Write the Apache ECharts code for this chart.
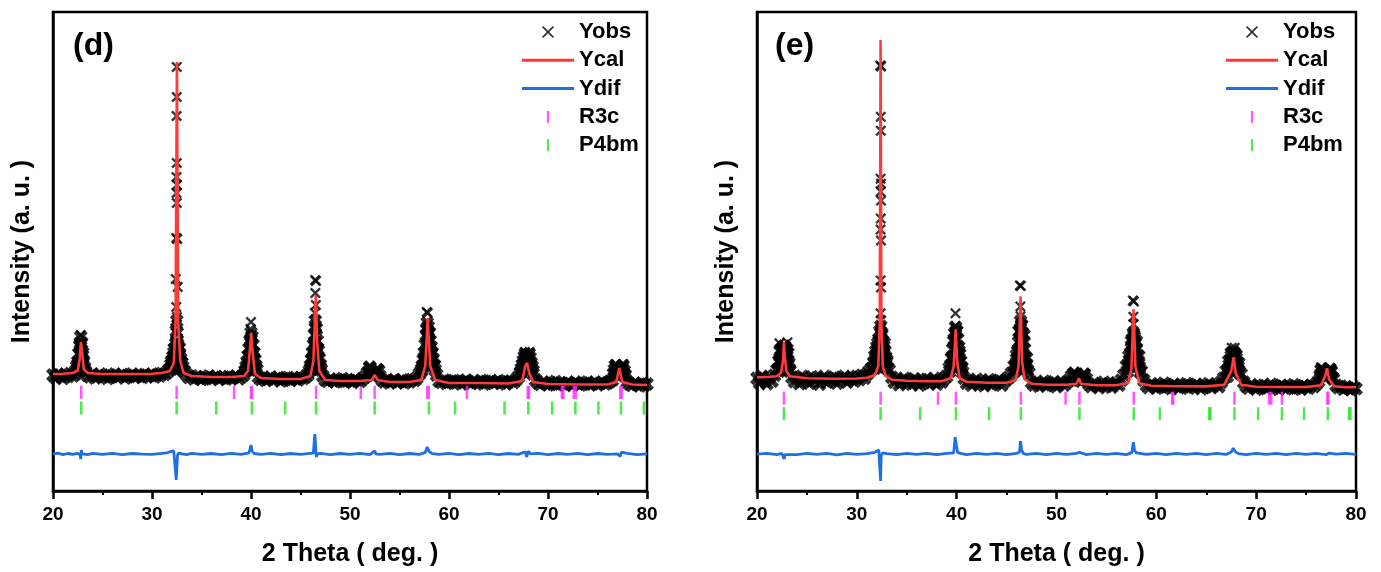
<!DOCTYPE html>
<html>
<head>
<meta charset="utf-8">
<script src="https://cdn.jsdelivr.net/npm/echarts@6/dist/echarts.min.js"></script>
<style>
html,body{margin:0;padding:0;background:#fff;}
#chart{width:1381px;height:572px;}
</style>
</head>
<body>
<div id="chart"></div>
<script>
// ---------------- DATA ----------------
const xTickLabels = [20, 30, 40, 50, 60, 70, 80];
const seriesNames = ['Yobs', 'Ycal', 'Ydif', 'R3c', 'P4bm'];
const panelLabels = ['(d)', '(e)'];

// Yobs background scan, 2θ from 20 to 80 in 0.25° steps (a.u.)
const obsStep = 0.25, obsStart = 20;
const obsBaseD = [
 1160,1135,1170,1150,1125,1165,1145,1175,1150,
 1170,1260,1480,1350,1190,1155,
 1140,1165,1130,1155,1170,1140,1150,1125,1160,1145,1170,1135,1150,1165,1130,1155,1145,1170,1140,1150,1160,1135,1165,1145,1155,1170,1140,1160,1150,1175,1165,1185,
 1210,1290,1420,1480,1430,1280,1200,1165,
 1135,1150,1120,1145,1130,1115,1140,1125,1150,1120,1135,1145,1115,1130,1140,1120,1145,1125,1135,1150,1120,1140,1160,
 1200,1290,1520,1330,1220,1140,
 1115,1130,1105,1125,1140,1110,1120,1135,1100,1125,1115,1135,1105,1130,1120,1110,1135,1125,1140,1165,
 1220,1330,1650,1420,1230,1150,
 1110,1095,1120,1105,1090,1115,1100,1125,1095,1110,1100,1085,1115,1105,1095,1120,1140,
 1180,1240,1150,1160,1215,1150,1110,
 1090,1105,1080,1100,1115,1085,1095,1110,1080,1100,1090,1115,1105,1130,
 1170,1220,1330,1620,1580,1380,1250,1160,
 1100,1085,1110,1075,1095,1090,1105,1080,1100,1070,1095,1110,1085,1075,1100,1090,1080,1105,1070,1095,1085,1100,1075,1090,1105,1080,1095,1070,1090,1100,1085,1110,1140,
 1190,1260,1340,1360,1260,1170,1110,
 1080,1065,1090,1075,1060,1085,1070,1095,1065,1080,1070,1055,1085,1075,1065,1090,1070,1060,1080,1075,1090,1065,1070,1085,1060,1075,1090,1070,1080,1095,1110,
 1170,1230,1200,1220,1150,1095,
 1070,1055,1080,1065,1050,1075,1060,1070
];
const obsBaseE = [
 1130,1085,1150,1110,1075,1140,1100,1160,
 1210,1300,1420,1450,1380,1220,1140,
 1095,1130,1075,1150,1105,1120,1080,1145,1100,1135,1070,1115,1150,1090,1125,1105,1140,1080,1130,1110,1150,1090,1125,1140,1100,1150,1115,1160,1130,1170,1200,
 1230,1280,1350,1500,1560,1480,1310,1210,1140,
 1090,1120,1065,1105,1130,1080,1110,1070,1125,1095,1060,1115,1085,1120,1075,1100,1130,1070,1105,1090,1125,1150,
 1230,1330,1520,1600,1400,1230,1130,
 1080,1105,1060,1095,1120,1070,1100,1055,1090,1115,1065,1100,1080,1110,1060,1095,1120,1140,1180,
 1250,1360,1600,1660,1560,1330,1180,
 1090,1060,1085,1050,1075,1100,1055,1080,1065,1095,1045,1070,1090,1060,1085,1110,
 1150,1180,1120,1110,1100,1170,1120,
 1070,1045,1080,1055,1035,1070,1090,1050,1075,1040,1065,1085,1060,1110,1160,
 1250,1350,1500,1560,1500,1350,1200,1110,
 1060,1035,1075,1050,1030,1065,1045,1080,1040,1055,1025,1070,1050,1035,1065,1045,1075,1030,1055,1040,1070,1050,1025,1060,1045,1075,1035,1055,1070,1045,1090,1130,
 1200,1300,1380,1390,1360,1280,1170,1090,
 1050,1030,1065,1040,1020,1055,1035,1060,1025,1045,1070,1030,1050,1020,1060,1040,1025,1055,1035,1065,1030,1045,1020,1055,1040,1030,1060,1045,1070,1100,
 1170,1200,1140,1190,1200,1120,1060,
 1035,1050,1020,1045,1030,1015,1040,1025
];

// Dense Yobs clusters on the reflections [2θ, intensity]
const obsClusterD = [
 [22.3,1200],[22.4,1240],[22.5,1290],[22.6,1370],[22.7,1450],[22.8,1540],[22.9,1480],[23.0,1380],[23.1,1290],[23.2,1230],[23.3,1190],
 [22.6,1270],[22.7,1300],[22.8,1350],[22.9,1320],[23.0,1260],[22.8,1440],
 [31.8,1220],[31.9,1260],[32.0,1300],[32.1,1340],[32.2,1380],[32.3,1420],[32.4,1470],[32.5,1500],[32.6,1460],[32.7,1420],[32.8,1370],[32.9,1320],[33.0,1280],[33.1,1240],[33.2,1200],
 [32.0,1220],[32.1,1250],[32.2,1280],[32.3,1300],[32.4,1330],[32.5,1360],[32.6,1330],[32.7,1300],[32.8,1270],[32.9,1230],[32.45,1600],[32.55,1580],[32.5,1700],
 [39.4,1200],[39.5,1240],[39.6,1290],[39.7,1350],[39.8,1420],[39.9,1500],[40.0,1580],[40.1,1540],[40.2,1460],[40.3,1380],[40.4,1310],[40.5,1250],[40.6,1210],
 [39.7,1250],[39.8,1280],[39.9,1330],[40.0,1380],[40.1,1360],[40.2,1310],[40.3,1260],[40.0,1480],
 [45.9,1200],[46.0,1250],[46.1,1310],[46.2,1380],[46.3,1460],[46.4,1560],[46.5,1700],[46.6,1620],[46.7,1500],[46.8,1400],[46.9,1320],[47.0,1260],[47.1,1210],
 [46.1,1220],[46.2,1260],[46.3,1300],[46.4,1350],[46.5,1420],[46.6,1380],[46.7,1320],[46.8,1270],[46.9,1220],[46.5,1560],[46.45,1450],
 [51.9,1190],[52.0,1230],[52.1,1180],[52.8,1210],[52.9,1200],
 [57.2,1200],[57.3,1250],[57.4,1310],[57.5,1380],[57.6,1460],[57.7,1560],[57.8,1680],[57.9,1640],[58.0,1580],[58.1,1500],[58.2,1440],[58.3,1380],[58.4,1320],[58.5,1260],[58.6,1210],
 [57.5,1260],[57.6,1300],[57.7,1360],[57.8,1420],[57.9,1420],[58.0,1380],[58.1,1340],[58.2,1300],[58.3,1260],[57.8,1550],[57.9,1530],
 [67.2,1180],[67.3,1220],[67.4,1260],[67.5,1300],[67.6,1340],[67.7,1370],[67.8,1330],[67.9,1330],[68.0,1360],[68.1,1370],[68.2,1330],[68.3,1280],[68.4,1240],[68.5,1200],
 [67.6,1240],[67.8,1230],[68.0,1250],[68.2,1230],
 [76.6,1170],[76.7,1210],[76.8,1250],[76.9,1250],[77.0,1210],[77.1,1190],[77.2,1200],[77.3,1190],[77.4,1210],[77.5,1250],[77.6,1250],[77.7,1200],[77.8,1160]
];
const obsClusterE = [
 [22.1,1220],[22.2,1300],[22.3,1400],[22.4,1420],[22.5,1400],[22.6,1420],[22.7,1450],[22.8,1430],[22.9,1410],[23.0,1420],[23.1,1380],[23.2,1280],[23.3,1200],
 [22.2,1200],[22.3,1280],[22.4,1300],[22.5,1290],[22.6,1300],[22.7,1320],[22.8,1310],[22.9,1290],[23.0,1300],[23.1,1260],
 [31.6,1230],[31.7,1290],[31.8,1350],[31.9,1400],[32.0,1440],[32.1,1480],[32.2,1520],[32.3,1600],[32.4,1650],[32.5,1580],[32.6,1500],[32.7,1450],[32.8,1400],[32.9,1340],[33.0,1290],[33.1,1230],
 [31.8,1230],[31.9,1270],[32.0,1300],[32.1,1330],[32.2,1360],[32.3,1400],[32.4,1450],[32.5,1420],[32.6,1370],[32.7,1330],[32.8,1290],[32.9,1240],[32.4,1530],
 [39.3,1200],[39.4,1260],[39.5,1330],[39.6,1420],[39.7,1500],[39.8,1580],[39.9,1640],[40.0,1600],[40.1,1520],[40.2,1440],[40.3,1370],[40.4,1300],[40.5,1240],[40.6,1190],
 [39.6,1260],[39.7,1300],[39.8,1350],[39.9,1420],[40.0,1400],[40.1,1340],[40.2,1290],[40.3,1250],[39.9,1520],
 [45.8,1200],[45.9,1250],[46.0,1320],[46.1,1400],[46.2,1490],[46.3,1600],[46.4,1700],[46.5,1660],[46.6,1580],[46.7,1500],[46.8,1420],[46.9,1340],[47.0,1270],[47.1,1210],
 [46.0,1230],[46.1,1270],[46.2,1320],[46.3,1380],[46.4,1440],[46.5,1420],[46.6,1380],[46.7,1330],[46.8,1280],[46.9,1230],[46.4,1580],[46.5,1540],
 [51.7,1160],[51.8,1180],[52.7,1150],[52.8,1170],
 [57.1,1200],[57.2,1250],[57.3,1310],[57.4,1380],[57.5,1450],[57.6,1520],[57.7,1580],[57.8,1540],[57.9,1480],[58.0,1420],[58.1,1360],[58.2,1300],[58.3,1240],[58.4,1190],
 [57.4,1260],[57.5,1300],[57.6,1350],[57.7,1400],[57.8,1380],[57.9,1340],[58.0,1290],[58.1,1250],
 [67.1,1150],[67.2,1200],[67.3,1260],[67.4,1310],[67.5,1350],[67.6,1380],[67.7,1390],[67.8,1380],[67.9,1360],[68.0,1330],[68.1,1290],[68.2,1240],[68.3,1190],
 [67.4,1220],[67.5,1250],[67.6,1270],[67.7,1280],[67.8,1270],[67.9,1250],[68.0,1230],
 [76.4,1150],[76.5,1210],[76.6,1220],[76.7,1180],[76.8,1150],[76.9,1160],[77.0,1180],[77.1,1170],[77.2,1170],[77.3,1200],[77.4,1220],[77.5,1190],[77.6,1140]
];
// Individually visible Yobs crosses above the clusters [2θ, intensity]
const obsTopsD = [
 [22.8,1560],
 [32.5,4240],[32.5,3940],[32.48,3750],[32.5,3280],[32.47,3140],[32.52,3060],[32.48,2980],[32.5,2880],[32.45,2530],[32.55,2520],[32.4,2120],[32.6,2040],[32.45,1840],[32.52,1740],[32.47,1660],
 [40.0,1690],[39.95,1620],
 [46.48,2110],[46.56,2100],[46.5,1980],[46.55,1860],[46.45,1780],
 [57.75,1790],[57.85,1780],
 [67.65,1390],[68.15,1390],
 [76.85,1270],[77.6,1270]
];
const obsTopsE = [
 [22.25,1480],[23.05,1490],
 [32.35,4265],[32.42,4255],[32.4,3750],[32.4,3610],[32.38,3130],[32.42,3080],[32.38,3000],[32.42,2910],[32.4,2730],[32.38,2620],[32.42,2510],[32.38,2110],[32.42,2040],[32.38,1780],[32.42,1710],[32.38,1620],
 [39.88,1780],[39.85,1650],
 [46.33,2060],[46.43,2055],[46.38,1850],[46.4,1750],
 [57.65,1910],[57.75,1900],[57.7,1745],[57.72,1672],
 [67.55,1435],[67.85,1435],
 [76.5,1240],[77.45,1230]
];

// Calculated profile Ycal [2θ, intensity]
const calD = [
 [20,1170],[21,1172],[22,1180],[22.5,1205],[22.7,1320],[22.82,1490],[22.87,1490],[22.97,1360],[23.1,1220],[23.5,1180],[25,1170],[28,1170],[30,1172],[31,1180],[31.8,1200],[32.2,1280],[32.38,1700],[32.52,4290],[32.64,1700],[32.85,1300],[33.2,1180],[34,1150],[36,1140],[38,1140],[39.3,1150],[39.7,1200],[39.92,1450],[40.02,1580],[40.15,1400],[40.4,1170],[41,1130],[43,1120],[45,1120],[46.0,1150],[46.3,1300],[46.45,1700],[46.55,1960],[46.68,1500],[46.9,1200],[47.5,1110],[49,1100],[51,1100],[52.2,1110],[52.5,1160],[52.8,1110],[54,1090],[56,1090],[57.2,1110],[57.6,1250],[57.85,1730],[58.1,1250],[58.6,1110],[60,1080],[63,1080],[66,1075],[67.4,1100],[67.7,1250],[67.9,1280],[68.1,1180],[68.5,1090],[70,1070],[73,1065],[76,1065],[76.9,1090],[77.2,1230],[77.5,1090],[78.5,1065],[80,1060]
];
const calE = [
 [20,1140],[21,1142],[22,1150],[22.4,1185],[22.6,1300],[22.7,1490],[22.78,1350],[22.95,1200],[23.3,1150],[25,1130],[28,1125],[30,1128],[31,1135],[31.8,1160],[32.15,1250],[32.3,1700],[32.38,4520],[32.46,1700],[32.6,1250],[32.9,1150],[33.5,1115],[35,1105],[37,1100],[38.5,1100],[39.4,1130],[39.7,1250],[39.9,1620],[40.05,1300],[40.3,1130],[41,1095],[43,1085],[45,1085],[45.9,1110],[46.2,1250],[46.4,1950],[46.55,1300],[46.8,1120],[47.5,1075],[49,1065],[51,1065],[52.0,1075],[52.25,1130],[52.45,1075],[54,1060],[56,1060],[57.2,1085],[57.5,1220],[57.72,1820],[57.9,1250],[58.3,1080],[59.5,1055],[62,1050],[65,1048],[66.8,1065],[67.5,1200],[67.75,1340],[67.95,1180],[68.5,1065],[70,1045],[73,1042],[75,1042],[76.5,1060],[76.9,1150],[77.1,1230],[77.3,1120],[77.8,1050],[79,1040],[80,1040]
];

// Difference curve Ydif [2θ, intensity]
const difD = [
 [20,370],[20.5,378],[21,364],[21.5,375],[22,366],[22.5,376],[22.75,360],[22.8,320],[22.85,410],[22.95,372],[23.5,364],[24,376],[25,367],[26,377],[27,363],[28,375],[29,368],[30,366],[31,376],[31.5,382],[31.9,395],[32.2,400],[32.35,420],[32.45,110],[32.5,120],[32.58,360],[32.7,382],[33,372],[33.5,364],[34,376],[35,366],[36,375],[37,363],[38,376],[39,367],[39.8,382],[40.0,460],[40.1,400],[40.3,375],[41,366],[42,376],[43,364],[44,375],[45,367],[46,376],[46.3,378],[46.45,570],[46.55,560],[46.6,340],[46.7,372],[47,376],[48,364],[49,375],[50,366],[51,376],[52,364],[52.5,400],[52.6,372],[53,367],[54,376],[55,364],[56,375],[57,366],[57.6,385],[57.8,440],[58.0,395],[58.3,374],[59,366],[60,376],[61,364],[62,375],[63,367],[64,376],[65,364],[66,375],[67,366],[67.7,392],[67.85,340],[68.0,398],[68.2,372],[69,376],[70,364],[71,375],[72,367],[73,376],[74,364],[75,375],[76,366],[77,372],[77.3,345],[77.4,388],[77.6,370],[78,376],[79,364],[80,372]
];
const difE = [
 [20,370],[21,378],[22,364],[22.5,376],[22.65,385],[22.72,320],[22.8,365],[23,375],[24,364],[25,377],[26,366],[27,376],[28,363],[29,377],[30,366],[31,375],[31.8,388],[32.2,410],[32.32,395],[32.38,100],[32.44,360],[32.6,382],[33,374],[34,364],[35,377],[36,366],[37,376],[38,364],[39,377],[39.7,382],[39.85,540],[39.95,470],[40.1,385],[40.5,374],[41,364],[42,376],[43,366],[44,377],[45,364],[46,376],[46.3,390],[46.4,500],[46.5,410],[46.7,375],[47,366],[48,377],[49,364],[50,376],[51,366],[52,377],[52.3,388],[52.5,370],[53,364],[54,376],[55,366],[56,377],[57,364],[57.55,385],[57.7,490],[57.8,410],[58,382],[58.5,374],[59,366],[60,377],[61,364],[62,376],[63,366],[64,377],[65,364],[66,376],[67,366],[67.5,390],[67.7,430],[67.9,395],[68.2,374],[69,364],[70,377],[71,366],[72,376],[73,364],[74,377],[75,366],[76,376],[77,364],[77.15,352],[77.3,380],[78,370],[79,377],[80,366]
];

// Bragg reflection positions (2θ)
const r3cD  = [22.85,32.49,38.29,40.0,40.1,46.57,51.09,52.49,57.8,57.95,61.81,67.95,68.08,71.4,71.55,72.6,72.8,77.3,77.45];
const p4bmD = [22.85,32.49,36.49,40.09,43.45,46.57,52.49,57.97,60.61,65.61,68.01,70.41,72.77,75.09,77.37,79.69];
const r3cE  = [22.70,32.38,38.13,39.92,46.43,50.91,52.30,57.74,61.58,61.68,67.82,71.31,71.51,72.58,77.13,77.23];
const p4bmE = [22.70,32.38,36.35,39.92,43.25,46.43,52.30,57.74,60.36,65.3,65.42,67.82,70.2,72.58,74.8,77.18,79.3,79.45];
// vertical level (a.u.) of each reflection row
const rowLevelD = {r3c: 985, p4bm: 830};
const rowLevelE = {r3c: 930, p4bm: 775};

// ---------------- BUILD ----------------
const FONT = '"Liberation Sans", Arial, Helvetica, sans-serif';
const RED = '#ff3a3a', BLUE = '#1e6fe6', MAG = '#ff2cff', GRN = '#1ee61e';
const X_PATH = 'path://M0,1.5L1.5,0L5,3.5L8.5,0L10,1.5L6.5,5L10,8.5L8.5,10L5,6.5L1.5,10L0,8.5L3.5,5Z';
const X_BOLD = 'path://M0,2.4L2.4,0L5,2.6L7.6,0L10,2.4L7.4,5L10,7.6L7.6,10L5,7.4L2.4,10L0,7.6L2.6,5Z';
const X_LEG = 'path://M0,1L1,0L5,4L9,0L10,1L6,5L10,9L9,10L5,6L1,10L0,9L4,5Z';
const LINE_PATH = 'path://M0,0H52V3H0Z';
const BAR_PATH = 'path://M0,0H2V11H0Z';

function denseData(base, cluster) {
  const pts = base.map((v, i) => [obsStart + i * obsStep, v]);
  return pts.concat(cluster);
}
function rowData(pos, level) { return pos.map(p => [p, level]); }

const grids = [
  {left: 53, top: 12, width: 594, height: 479},
  {left: 757, top: 12, width: 599, height: 480}
];
const yMax = [4790, 4800];

const xAxes = grids.map((g, i) => ({
  gridIndex: i, type: 'value', min: 20, max: 80, interval: 10,
  name: '2 Theta ( deg. )', nameLocation: 'middle', nameGap: 51,
  nameTextStyle: {fontFamily: FONT, fontSize: 25, fontWeight: 'bold', color: '#000'},
  axisLine: {show: true, onZero: false, lineStyle: {color: '#000', width: 2.5}},
  axisTick: {show: true, inside: false, length: 8, lineStyle: {color: '#000', width: 2.5}},
  minorTick: {show: true, splitNumber: 2, length: 4, lineStyle: {color: '#000', width: 2}},
  axisLabel: {fontFamily: FONT, fontSize: 19, fontWeight: 'bold', color: '#000', margin: 14,
              formatter: v => (xTickLabels.indexOf(v) >= 0 ? String(v) : '')},
  splitLine: {show: false}
}));
const yAxes = grids.map((g, i) => ({
  gridIndex: i, type: 'value', min: 0, max: yMax[i],
  name: 'Intensity (a. u. )', nameLocation: 'middle', nameGap: 18, nameRotate: 90,
  nameTextStyle: {fontFamily: FONT, fontSize: 25, fontWeight: 'bold', color: '#000'},
  axisLine: {show: true, lineStyle: {color: '#000', width: 2.5}},
  axisTick: {show: false}, axisLabel: {show: false}, splitLine: {show: false}
}));

const panels = [
  {dense: denseData(obsBaseD, obsClusterD), tops: obsTopsD, cal: calD, dif: difD, r3c: rowData(r3cD, rowLevelD.r3c), p4bm: rowData(p4bmD, rowLevelD.p4bm)},
  {dense: denseData(obsBaseE, obsClusterE), tops: obsTopsE, cal: calE, dif: difE, r3c: rowData(r3cE, rowLevelE.r3c), p4bm: rowData(p4bmE, rowLevelE.p4bm)}
];

const series = [];
panels.forEach((p, i) => {
  series.push({name: seriesNames[0], type: 'scatter', xAxisIndex: i, yAxisIndex: i, data: p.dense,
    symbol: X_BOLD, symbolSize: 14, itemStyle: {color: '#000', borderWidth: 0}, z: 2, silent: true});
  series.push({name: seriesNames[0], type: 'scatter', xAxisIndex: i, yAxisIndex: i, data: p.tops,
    symbol: X_PATH, symbolSize: 11, itemStyle: {color: '#000', borderWidth: 0}, z: 2, silent: true});
  series.push({name: seriesNames[1], type: 'line', xAxisIndex: i, yAxisIndex: i, data: p.cal,
    showSymbol: false, symbol: 'none', lineStyle: {color: RED, width: 2.6}, itemStyle: {color: RED}, z: 4, silent: true});
  series.push({name: seriesNames[2], type: 'line', xAxisIndex: i, yAxisIndex: i, data: p.dif,
    showSymbol: false, symbol: 'none', lineStyle: {color: BLUE, width: 2.8}, itemStyle: {color: BLUE}, z: 4, silent: true});
  series.push({name: seriesNames[3], type: 'scatter', xAxisIndex: i, yAxisIndex: i, data: p.r3c,
    symbol: 'rect', symbolSize: [2.5, 13], itemStyle: {color: MAG}, z: 3, silent: true});
  series.push({name: seriesNames[4], type: 'scatter', xAxisIndex: i, yAxisIndex: i, data: p.p4bm,
    symbol: 'rect', symbolSize: [2.5, 13], itemStyle: {color: GRN}, z: 3, silent: true});
});

const legendItems = [
  {name: seriesNames[0], icon: X_LEG, itemStyle: {color: '#000', borderWidth: 0}},
  {name: seriesNames[1], icon: LINE_PATH, itemStyle: {color: RED, borderWidth: 0}},
  {name: seriesNames[2], icon: LINE_PATH, itemStyle: {color: BLUE, borderWidth: 0}},
  {name: seriesNames[3], icon: BAR_PATH, itemStyle: {color: MAG, borderWidth: 0}},
  {name: seriesNames[4], icon: BAR_PATH, itemStyle: {color: GRN, borderWidth: 0}}
];
const legendLeft = [522, 1226];
const legends = legendLeft.map(l => ({
  orient: 'vertical', left: l, top: 21, padding: 0, itemGap: 6.3,
  itemWidth: 52, itemHeight: 12, selectedMode: false, symbolKeepAspect: true,
  textStyle: {fontFamily: FONT, fontSize: 22, fontWeight: 'bold', color: '#000'},
  data: legendItems
}));

const titles = panelLabels.map((t, i) => ({
  text: t, left: i === 0 ? 73 : 775, top: 30, padding: 0,
  textStyle: {fontFamily: FONT, fontSize: 32, fontWeight: 'bold', color: '#000'}
}));

const chart = echarts.init(document.getElementById('chart'), null, {renderer: 'canvas'});
chart.setOption({
  animation: false,
  backgroundColor: '#fff',
  title: titles,
  legend: legends,
  grid: grids.map(g => Object.assign({show: true, borderColor: '#000', borderWidth: 2.5, backgroundColor: 'transparent'}, g)),
  xAxis: xAxes,
  yAxis: yAxes,
  series: series
});
</script>
</body>
</html>
